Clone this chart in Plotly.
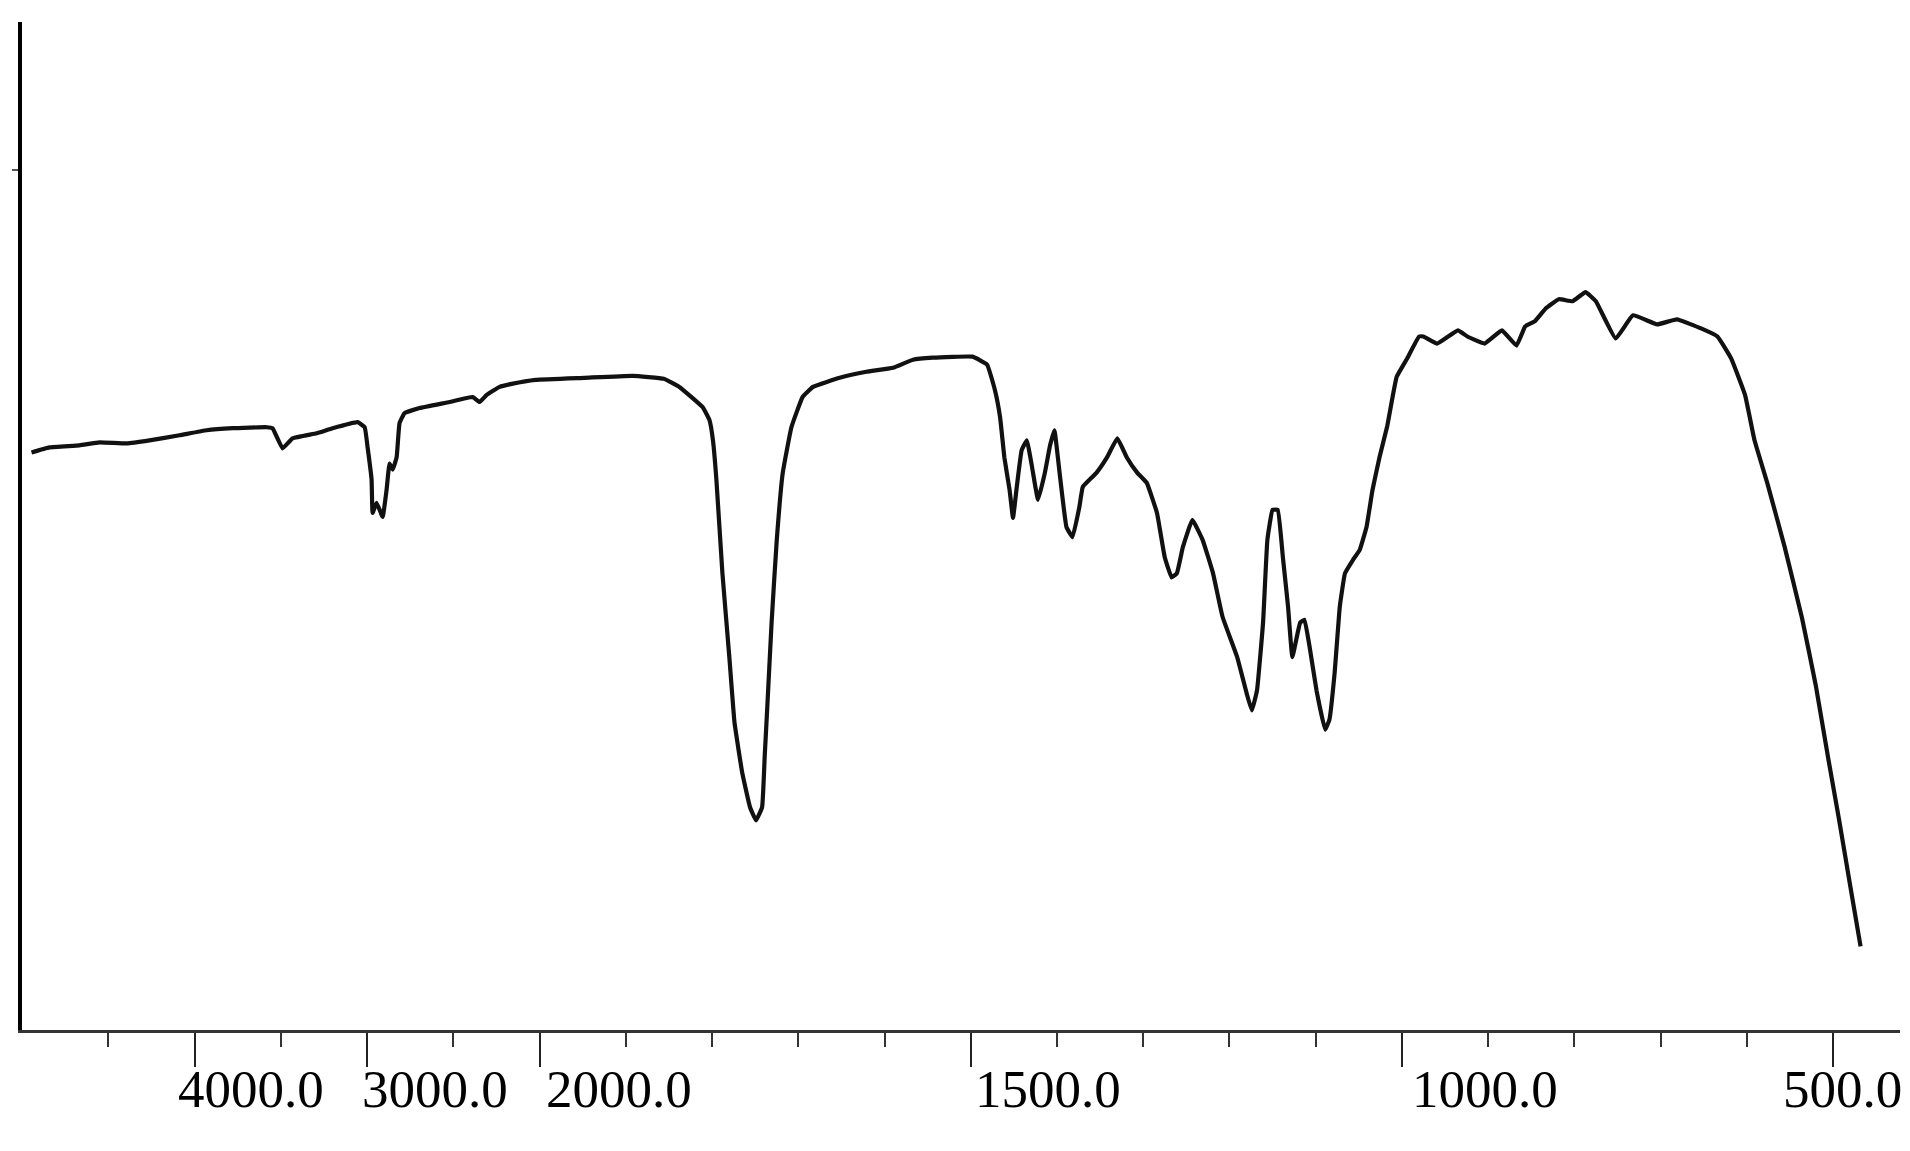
import numpy as np
import plotly.graph_objects as go

# ---- data (wavenumber in cm-1, transmittance in arbitrary %T) ----
wavenumber = [4945, 4841, 4667, 4551, 4394, 4261, 4087, 3930, 3780, 3583, 3548, 3490, 3432, 3293, 3200,
              3055, 3014, 2997, 2974, 2968, 2945, 2910, 2887, 2870, 2852, 2829, 2812, 2783, 2696, 2522,
              2388, 2348, 2307, 2232, 2162, 2023,
              1948, 1892, 1856, 1838, 1811, 1803, 1799, 1795, 1788, 1780, 1774, 1765, 1756, 1749, 1742,
              1739, 1736, 1731, 1725, 1718, 1708, 1695, 1683, 1652, 1621, 1590, 1567, 1544, 1498, 1481,
              1472, 1466, 1461, 1455, 1451, 1447, 1441, 1435, 1429, 1422, 1414, 1408, 1403, 1397, 1389,
              1382, 1374, 1370, 1354, 1342, 1330, 1319, 1307, 1296, 1284, 1275, 1267, 1261, 1254, 1243,
              1231, 1219, 1208, 1191, 1180, 1174, 1168, 1161, 1156, 1150, 1144, 1138, 1132, 1127, 1118,
              1113, 1107, 1099, 1089, 1084, 1078, 1072, 1066, 1057, 1049, 1041, 1034, 1026, 1017, 1006,
              994, 980, 975, 959, 935, 924, 904, 884, 867, 857, 846, 833, 818, 802, 787, 775, 752, 732,
              704, 681, 653, 634, 618, 602, 591, 576, 556, 536, 520, 505, 493, 480, 468]
transmittance = [57.3, 57.8, 58.0, 58.3, 58.2, 58.5, 59.0, 59.5, 59.7, 59.8, 59.7, 57.7, 58.7, 59.2, 59.7,
                 60.3, 59.8, 57.8, 54.6, 51.3, 52.3, 50.9, 53.6, 56.2, 55.6, 56.8, 60.2, 61.2, 61.7, 62.3,
                 62.8, 62.3, 63.0, 63.8, 64.1, 64.5,
                 64.7, 64.9, 64.6, 63.8, 61.8, 60.5, 58.5, 54.6, 45.3, 37.0, 30.5, 25.5, 22.1, 20.8, 22.1,
                 27.1, 32.0, 40.4, 48.6, 55.3, 59.8, 62.8, 63.8, 64.7, 65.3, 65.7, 66.5, 66.7, 66.8, 66.0,
                 63.5, 60.8, 56.8, 53.6, 50.8, 53.6, 57.5, 58.5, 55.9, 52.6, 55.3, 58.0, 59.5, 55.3, 49.9,
                 48.9, 51.9, 53.9, 55.3, 56.8, 58.7, 56.8, 55.3, 54.3, 51.3, 46.9, 44.9, 45.3, 47.9, 50.6,
                 48.6, 45.3, 41.0, 37.0, 33.4, 31.7, 33.7, 40.4, 48.6, 51.6, 51.6, 46.9, 42.0, 37.0, 40.4,
                 40.7, 38.0, 33.7, 29.8, 30.8, 35.4, 42.0, 45.3, 46.6, 47.6, 49.9, 53.6, 56.8, 59.9, 64.8,
                 66.6, 68.8, 68.8, 68.1, 69.4, 68.8, 68.1, 69.4, 67.9, 69.8, 70.3, 71.6, 72.5, 72.3, 73.2,
                 72.3, 68.6, 70.9, 70.0, 70.5, 69.6, 68.8, 66.6, 63.0, 58.5, 54.2, 47.9, 40.9, 34.2, 26.7,
                 20.9, 14.3, 8.3]

major_ticks = [4000, 3000, 2000, 1500, 1000, 500]
tick_labels = ["4000.0", "3000.0", "2000.0", "1500.0", "1000.0", "500.0"]
minor_ticks = [4500, 3500, 2500, 1900, 1800, 1700, 1600, 1400, 1300, 1200, 1100, 900, 800, 700, 600]


# ---- axis scale: instrument chart compresses the region above 2000 cm-1 ----
def pos(w):
    w = np.asarray(w, dtype=float)
    return np.where(w >= 2000, 540 - (w - 2000) * 0.1725, 540 + (2000 - w) * 0.862)


fig = go.Figure()
fig.add_trace(go.Scatter(
    x=pos(wavenumber), y=transmittance, mode="lines",
    line=dict(color="#111111", width=4.2, shape="spline", smoothing=0.3),
    hoverinfo="skip", showlegend=False,
))

fig.update_layout(
    width=1910, height=1151,
    margin=dict(l=22, r=10, t=22, b=121),
    paper_bgcolor="white", plot_bgcolor="white",
    font=dict(family="Liberation Serif", color="black"),
)
fig.update_xaxes(
    range=[22.5, 1900], showgrid=False, zeroline=False, automargin=False,
    showline=True, linecolor="#333333", linewidth=3,
    ticks="outside", tickvals=pos(major_ticks).tolist(), ticklen=34, tickwidth=2, tickcolor="#222222",
    showticklabels=False,
    minor=dict(tickvals=pos(minor_ticks).tolist(), ticks="outside", ticklen=14, tickwidth=2,
               tickcolor="#333333", showgrid=False),
)
fig.update_yaxes(
    range=[0, 100], showgrid=False, zeroline=False, automargin=False,
    showline=True, linecolor="black", linewidth=4,
    ticks="outside", tickvals=[85.3], ticklen=6, tickwidth=1.5, tickcolor="#555555",
    showticklabels=False,
)

label_shift = {"4000.0": -19, "3000.0": -7, "2000.0": 4, "1500.0": 2, "1000.0": 8, "500.0": -52}
for w, t in zip(major_ticks, tick_labels):
    fig.add_annotation(
        x=float(pos(w)), xref="x", y=-0.0585, yref="paper",
        text=t, showarrow=False, xanchor="left", yanchor="middle",
        xshift=label_shift[t],
        font=dict(family="Liberation Serif", size=53, color="black"),
    )

fig.write_html(
    "out.html",
    config={"displayModeBar": False, "staticPlot": True},
    post_script="document.body.style.margin='0';document.body.style.overflow='hidden';",
)
